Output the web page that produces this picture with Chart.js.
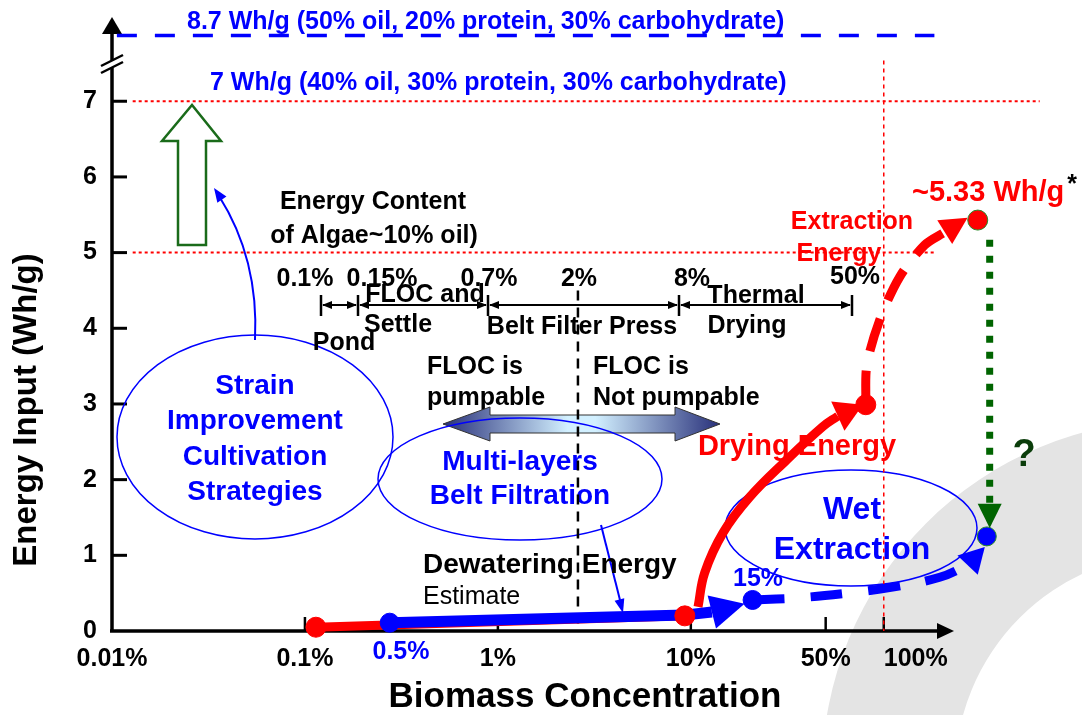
<!DOCTYPE html>
<html>
<head>
<meta charset="utf-8">
<script src="https://cdn.jsdelivr.net/npm/chart.js@4"></script>
<style>
  body { margin: 0; background: #fff; }
  canvas { display: block; }
</style>
</head>
<body>
<canvas id="chart" width="1082" height="715"></canvas>
<script>
// axis ticks (biomass concentration in %, energy in Wh/g)
const xTickValues = [0.01, 0.1, 1, 10, 50];
const xEndTick = [100];
const yTickValues = [0, 1, 2, 3, 4, 5, 6, 7];

// dewatering energy, 0.1% -> 10%
const dewaterRedX = [0.114, 9.31];
const dewaterRedY = [0.05, 0.2];
const dewaterBlueX = [0.275, 9.3, 12.85];
const dewaterBlueY = [0.11, 0.21, 0.25];
const dewaterBlueTip = [19.0, 0.36];

// drying energy curve
const dryingX = [10.9, 11.8, 14.7, 20.2, 31.4, 48.3, 57.8];
const dryingY = [0.32, 0.77, 1.30, 1.77, 2.26, 2.70, 2.84];
const dryingTip = [77.9, 2.99];

// extraction energy curve
const extractX = [80.7, 81.7, 95.3, 121, 163, 207];
const extractY = [2.99, 3.51, 4.11, 4.68, 5.10, 5.27];
const extractTip = [272, 5.46];

// wet extraction curve
const wetX = [20.9, 36.7, 64.3, 111, 195, 272];
const wetY = [0.41, 0.44, 0.50, 0.58, 0.71, 0.87];
const wetTip = [334, 1.11];

// "?" drop from dry route to wet route
const gapX = [354, 354];
const gapY = [5.17, 1.68];
const gapTip = [354, 1.36];

// markers
const redPointX = [0.114, 9.31, 80.7, 307];
const redPointY = [0.05, 0.2, 2.99, 5.43];
const bluePointX = [0.275, 20.9, 342];
const bluePointY = [0.11, 0.41, 1.25];

// reference levels (8.7 sits above the axis break)
const level87 = 7.87;
const level7 = 7;
const level5 = 5;
const flocLimit = 2.6;

const FONT = '"Liberation Sans", Arial, sans-serif';
const BLUE = '#0000ff', RED = '#ff0000', GREEN = '#006400';
Chart.defaults.font.family = FONT;

function pts(xs, ys) {
    return xs.map((x, i) => ({ x: x, y: ys[i] }));
}

function label(c, s, x, y, size, color, align, weight) {
    c.font = (weight || 'bold') + ' ' + size + 'px ' + FONT;
    c.fillStyle = color || '#000';
    c.textAlign = align || 'center';
    c.textBaseline = 'middle';
    c.fillText(s, x, y);
}

function head(c, x1, y1, x2, y2, len, w, color) {
    const a = Math.atan2(y2 - y1, x2 - x1);
    const bx = x2 - len * Math.cos(a), by = y2 - len * Math.sin(a);
    c.fillStyle = color;
    c.beginPath();
    c.moveTo(x2, y2);
    c.lineTo(bx + w / 2 * Math.sin(a), by - w / 2 * Math.cos(a));
    c.lineTo(bx - w / 2 * Math.sin(a), by + w / 2 * Math.cos(a));
    c.closePath();
    c.fill();
}

function line(c, x1, y1, x2, y2, w, color, dash) {
    c.strokeStyle = color;
    c.lineWidth = w;
    c.setLineDash(dash || []);
    c.beginPath();
    c.moveTo(x1, y1);
    c.lineTo(x2, y2);
    c.stroke();
    c.setLineDash([]);
}

function ellipse(c, x, y, rx, ry) {
    c.strokeStyle = BLUE;
    c.lineWidth = 1.5;
    c.beginPath();
    c.ellipse(x, y, rx, ry, 0, 0, Math.PI * 2);
    c.stroke();
}

const annotations = {
    id: 'annotations',
    beforeDraw(chart) {
        const c = chart.ctx;
        c.save();
        c.fillStyle = '#fff';
        c.fillRect(0, 0, chart.width, chart.height);
        // grey band bottom right
        c.fillStyle = '#e4e4e4';
        c.beginPath();
        c.arc(1176, 774, 354, 0, Math.PI * 2);
        c.moveTo(1176 + 221, 774);
        c.arc(1176, 774, 221, 0, Math.PI * 2, true);
        c.fill();
        c.restore();
    },
    beforeDatasetsDraw(chart) {
        const c = chart.ctx;
        const xs = chart.scales.x, ys = chart.scales.y;
        const left = chart.chartArea.left, bottom = chart.chartArea.bottom;
        c.save();

        // axes
        line(c, left, bottom, left, 30, 3.5, '#000');
        head(c, left, 40, left, 17, 17, 20, '#000');
        c.fillStyle = '#fff';
        c.fillRect(left - 4, 60, 8, 8);
        line(c, 101, 73, 123, 62, 2.5, '#000');
        line(c, 101, 66, 123, 55, 2.5, '#000');
        line(c, left - 2, bottom, 940, bottom, 3.5, '#000');
        head(c, 930, bottom, 954, bottom, 17, 16, '#000');
        yTickValues.slice(1).forEach(v => {
            const y = ys.getPixelForValue(v);
            line(c, left, y, left + 15, y, 3, '#000');
        });
        xTickValues.slice(1).concat(xEndTick).forEach(v => {
            const x = xs.getPixelForValue(v);
            line(c, x, bottom, x, bottom - 14, 2.5, '#000');
        });

        // y axis title
        c.save();
        c.translate(27, 410);
        c.rotate(-Math.PI / 2);
        label(c, 'Energy Input (Wh/g)', 0, 0, 33, '#000');
        c.restore();

        // top level captions
        label(c, '8.7 Wh/g (50% oil, 20% protein, 30% carbohydrate)', 187, 22, 25, BLUE, 'left');
        label(c, '7 Wh/g (40% oil, 30% protein, 30% carbohydrate)', 210, 83, 25, BLUE, 'left');

        // hollow green arrow
        c.strokeStyle = '#1a6b1a';
        c.lineWidth = 2.5;
        c.beginPath();
        c.moveTo(178, 245); c.lineTo(178, 141); c.lineTo(162, 141); c.lineTo(192, 105);
        c.lineTo(221, 141); c.lineTo(206, 141); c.lineTo(206, 245); c.closePath();
        c.stroke();

        // strain improvement
        ellipse(c, 255, 437, 138, 102);
        ['Strain', 'Improvement', 'Cultivation', 'Strategies'].forEach((s, i) =>
            label(c, s, 255, 386 + i * 35.5, 28, BLUE));
        c.strokeStyle = BLUE;
        c.lineWidth = 2;
        c.beginPath();
        c.moveTo(255, 340);
        c.quadraticCurveTo(259, 259, 219, 196);
        c.stroke();
        head(c, 240, 226, 214, 188, 14, 11, BLUE);

        // energy content
        label(c, 'Energy Content', 373, 202, 25, '#000');
        label(c, 'of Algae~10% oil)', 374, 236, 25, '#000');

        // dewatering method scale
        const bar = [321, 358, 488, 679, 852];
        bar.forEach(x => line(c, x, 295, x, 316, 2.5, '#000'));
        for (let i = 0; i < bar.length - 1; i++) {
            line(c, bar[i] + 2, 305, bar[i + 1] - 2, 305, 1.8, '#000');
            head(c, bar[i + 1] - 10, 305, bar[i + 1] - 1, 305, 10, 8, '#000');
            head(c, bar[i] + 10, 305, bar[i] + 1, 305, 10, 8, '#000');
        }
        label(c, '0.1%', 305, 279, 25, '#000');
        label(c, '0.15%', 382, 279, 25, '#000');
        label(c, '0.7%', 489, 279, 25, '#000');
        label(c, '2%', 579, 279, 25, '#000');
        label(c, '8%', 692, 279, 25, '#000');
        label(c, '50%', 855, 277, 25, '#000');
        label(c, 'FLOC and', 425, 295, 25, '#000');
        label(c, 'Settle', 398, 325, 25, '#000');
        label(c, 'Pond', 344, 343, 25, '#000');
        label(c, 'Belt Filter Press', 582, 327, 25, '#000');
        label(c, 'Thermal', 756, 296, 25, '#000');
        label(c, 'Drying', 747, 326, 25, '#000');

        // pumpable
        label(c, 'FLOC is', 427, 367, 25, '#000', 'left');
        label(c, 'pumpable', 427, 398, 25, '#000', 'left');
        label(c, 'FLOC is', 593, 367, 25, '#000', 'left');
        label(c, 'Not pumpable', 593, 398, 25, '#000', 'left');

        // gradient double arrow
        const g = c.createLinearGradient(443, 0, 720, 0);
        g.addColorStop(0, '#28307a');
        g.addColorStop(0.45, '#d2f0ff');
        g.addColorStop(0.55, '#d2f0ff');
        g.addColorStop(1, '#28307a');
        c.fillStyle = g;
        c.strokeStyle = '#333';
        c.lineWidth = 1;
        c.beginPath();
        c.moveTo(443, 424); c.lineTo(490, 407); c.lineTo(490, 415); c.lineTo(675, 415);
        c.lineTo(675, 407); c.lineTo(720, 424); c.lineTo(675, 441); c.lineTo(675, 433);
        c.lineTo(490, 433); c.lineTo(490, 441); c.closePath();
        c.fill();
        c.stroke();

        // belt filtration
        ellipse(c, 520, 479, 142, 61);
        label(c, 'Multi-layers', 520, 462, 28, BLUE);
        label(c, 'Belt Filtration', 520, 496, 28, BLUE);
        line(c, 601, 525, 620, 600, 2, BLUE);
        head(c, 618, 594, 623, 613, 14, 10, BLUE);

        // dewatering text
        label(c, 'Dewatering Energy', 423, 565, 28, '#000', 'left');
        label(c, 'Estimate', 423, 597, 25, '#000', 'left', 'normal');
        label(c, '0.5%', 401, 652, 25, BLUE);
        label(c, '15%', 758, 579, 25, BLUE);

        // wet extraction
        ellipse(c, 851, 528, 126, 58);
        label(c, 'Wet', 852, 510, 32, BLUE);
        label(c, 'Extraction', 852, 550, 32, BLUE);

        // drying / extraction
        label(c, 'Drying Energy', 797, 447, 29, RED);
        label(c, 'Extraction', 852, 222, 25, RED);
        label(c, 'Energy', 839, 254, 25, RED);
        label(c, '~5.33 Wh/g', 912, 193, 29, RED, 'left');
        label(c, '*', 1072, 185, 25, '#000');
        label(c, '?', 1024, 456, 38, '#0b3d0b');

        c.restore();
    },
    afterDatasetsDraw(chart) {
        const c = chart.ctx;
        const xs = chart.scales.x, ys = chart.scales.y;
        c.save();
        chart.data.datasets.forEach((ds, i) => {
            if (!ds.arrowTo) return;
            const el = chart.getDatasetMeta(i).data;
            const last = el[el.length - 1];
            const tx = xs.getPixelForValue(ds.arrowTo[0]);
            const ty = ys.getPixelForValue(ds.arrowTo[1]);
            const len = Math.hypot(tx - last.x, ty - last.y);
            head(c, last.x, last.y, tx, ty, len, ds.arrowWidth, ds.borderColor);
        });
        c.restore();
    }
};

function refLine(xs, ys, color, width, dash) {
    return { data: pts(xs, ys), borderColor: color, borderWidth: width, borderDash: dash,
             pointRadius: 0, order: 10, clip: false };
}

const tickFont = { size: 25, weight: 'bold' };

new Chart(document.getElementById('chart'), {
    type: 'line',
    data: {
        datasets: [
            refLine([0.0106, 183], [level87, level87], BLUE, 3.5, [20, 18]),
            refLine([0.0128, 643], [level7, level7], RED, 2, [3, 3]),
            refLine([0.0128, 183], [level5, level5], RED, 2, [3, 3]),
            refLine([100, 100], [7.54, 0], RED, 1.5, [4, 4]),
            refLine([flocLimit, flocLimit], [4.5, 0], '#000', 2.5, [10, 7]),
            {
                data: pts(dewaterRedX, dewaterRedY), borderColor: RED, borderWidth: 9,
                pointRadius: 0, order: 6, clip: false
            },
            {
                data: pts(dewaterBlueX, dewaterBlueY), borderColor: BLUE, borderWidth: 11,
                pointRadius: 0, order: 5, clip: false, arrowTo: dewaterBlueTip, arrowWidth: 34
            },
            {
                data: pts(dryingX, dryingY), borderColor: RED, borderWidth: 9, tension: 0.4,
                pointRadius: 0, order: 5, clip: false, arrowTo: dryingTip, arrowWidth: 32
            },
            {
                data: pts(extractX, extractY), borderColor: RED, borderWidth: 9, tension: 0.3,
                borderDash: [34, 20], pointRadius: 0, order: 5, clip: false,
                arrowTo: extractTip, arrowWidth: 28
            },
            {
                data: pts(wetX, wetY), borderColor: BLUE, borderWidth: 9, tension: 0.4,
                borderDash: [32, 26], pointRadius: 0, order: 5, clip: false,
                arrowTo: wetTip, arrowWidth: 28
            },
            {
                data: pts(gapX, gapY), borderColor: GREEN, borderWidth: 7,
                borderDash: [7, 9], pointRadius: 0, order: 4, clip: false,
                arrowTo: gapTip, arrowWidth: 24
            },
            {
                data: pts(bluePointX, bluePointY), showLine: false, pointRadius: 9.5,
                pointBackgroundColor: BLUE, pointBorderColor: [BLUE, BLUE, '#2a8a2a'],
                pointBorderWidth: 1, order: 2, clip: false
            },
            {
                data: pts(redPointX, redPointY), showLine: false, pointRadius: 10,
                pointBackgroundColor: RED, pointBorderColor: [RED, RED, RED, '#2a8a2a'],
                pointBorderWidth: 1, order: 1, clip: false
            }
        ]
    },
    options: {
        responsive: false,
        animation: false,
        events: [],
        layout: { padding: { top: 18, right: 24, left: 0, bottom: 0 } },
        plugins: { legend: { display: false }, tooltip: { enabled: false } },
        scales: {
            x: {
                type: 'logarithmic',
                min: 0.01,
                max: 800,
                afterBuildTicks: s => { s.ticks = xTickValues.map(v => ({ value: v })); },
                afterFit: s => { s.height = 84; s.paddingLeft = 0; s.paddingRight = 0; },
                grid: { display: false, drawTicks: false },
                border: { display: false },
                ticks: {
                    callback: v => v + '%',
                    autoSkip: false, maxRotation: 0, padding: 13,
                    color: '#000', font: tickFont
                },
                title: {
                    display: true, text: 'Biomass Concentration', color: '#000',
                    font: { size: 35, weight: 'bold', lineHeight: 1 }, padding: 0
                }
            },
            // the 100% label sits to the right of its tick, as in the source figure
            xEnd: {
                axis: 'x',
                type: 'logarithmic',
                min: 0.01,
                max: 800,
                position: { y: 0 },
                afterBuildTicks: s => { s.ticks = xEndTick.map(v => ({ value: v })); },
                grid: { display: false, drawTicks: false },
                border: { display: false },
                ticks: {
                    callback: v => v + '%',
                    align: 'start', autoSkip: false, maxRotation: 0, padding: 13,
                    color: '#000', font: tickFont
                }
            },
            y: {
                min: 0,
                max: 8.1,
                afterBuildTicks: s => { s.ticks = yTickValues.map(v => ({ value: v })); },
                afterFit: s => { s.width = 112; s.paddingTop = 0; s.paddingBottom = 0; },
                grid: { display: false, drawTicks: false },
                border: { display: false },
                ticks: { padding: 15, color: '#000', font: tickFont }
            }
        }
    },
    plugins: [annotations]
});
</script>
</body>
</html>
